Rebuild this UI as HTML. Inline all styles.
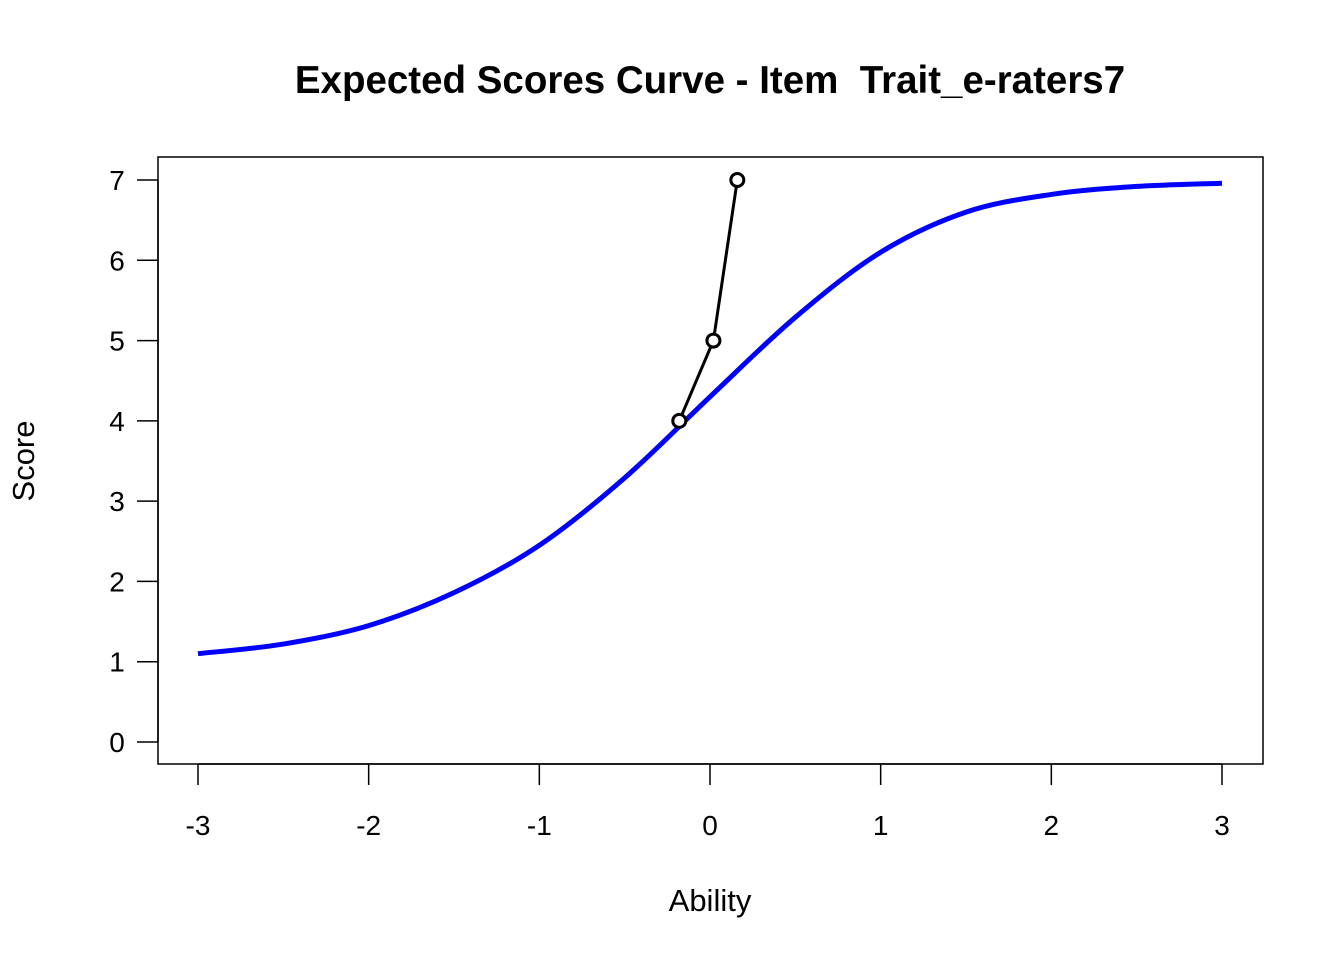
<!DOCTYPE html>
<html><head><meta charset="utf-8"><style>body{margin:0;background:#fff}svg{display:block;font-family:"Liberation Sans",Arial,sans-serif}</style></head>
<body>
<svg id="chart" width="1344" height="960" viewBox="0 0 1344 960" xmlns="http://www.w3.org/2000/svg">
<text x="710" y="93" text-anchor="middle" font-size="38.5" font-weight="bold" xml:space="preserve">Expected Scores Curve - Item  Trait_e-raters7</text>
<rect x="158" y="157" width="1105" height="607" fill="none" stroke="#000" stroke-width="1.5"/>
<g id="xaxis"></g>
<g id="yaxis"></g>
<text x="710" y="911" text-anchor="middle" font-size="31">Ability</text>
<text transform="translate(34,461) rotate(-90)" text-anchor="middle" font-size="31">Score</text>
<g id="series"></g>
</svg>
<script>
const xTicks=[-3,-2,-1,0,1,2,3];
const yTicks=[0,1,2,3,4,5,6,7];
const curveX=[-3,-2.5,-2,-1.5,-1,-0.5,0,0.5,1,1.5,2,2.5,3];
const curveY=[1.1,1.22,1.45,1.86,2.45,3.29,4.3,5.29,6.1,6.6,6.82,6.92,6.96];
const obsX=[-0.18,0.02,0.16];
const obsY=[4,5,7];
const NS="http://www.w3.org/2000/svg";
const sx=v=>198+(v+3)*(1024/6);
const sy=v=>742-v*(562/7);
function mk(t,a,p){const e=document.createElementNS(NS,t);for(const k in a)e.setAttribute(k,a[k]);p.appendChild(e);return e;}
const xa=document.getElementById('xaxis'),ya=document.getElementById('yaxis'),se=document.getElementById('series');
mk('line',{x1:sx(xTicks[0]),x2:sx(xTicks[xTicks.length-1]),y1:764,y2:764,stroke:'#000','stroke-width':1.5},xa);
xTicks.forEach(t=>{mk('line',{x1:sx(t),x2:sx(t),y1:764,y2:785,stroke:'#000','stroke-width':1.5},xa);
const tx=mk('text',{x:sx(t),y:835,'text-anchor':'middle','font-size':28},xa);tx.textContent=t;

});
mk('line',{x1:158,x2:158,y1:sy(0),y2:sy(7),stroke:'#000','stroke-width':1.5},ya);
yTicks.forEach(t=>{mk('line',{x1:137,x2:158,y1:sy(t),y2:sy(t),stroke:'#000','stroke-width':1.5},ya);
const tx=mk('text',{x:117,y:sy(t)+10,'text-anchor':'middle','font-size':28},ya);tx.textContent=t;

});
const P=curveX.map((x,i)=>[sx(x),sy(curveY[i])]);
let d='M'+P[0][0]+','+P[0][1];
for(let i=0;i<P.length-1;i++){const p0=P[Math.max(i-1,0)],p1=P[i],p2=P[i+1],p3=P[Math.min(i+2,P.length-1)];
d+=' C'+(p1[0]+(p2[0]-p0[0])/6)+','+(p1[1]+(p2[1]-p0[1])/6)+' '+(p2[0]-(p3[0]-p1[0])/6)+','+(p2[1]-(p3[1]-p1[1])/6)+' '+p2[0]+','+p2[1];}
const c=mk('path',{d:d,fill:'none',stroke:'#0000ff','stroke-width':5},se);


const ol=mk('polyline',{points:obsX.map((x,i)=>sx(x)+','+sy(obsY[i])).join(' '),fill:'none',stroke:'#000','stroke-width':3},se);


obsX.forEach((x,i)=>{const p=mk('circle',{cx:sx(x),cy:sy(obsY[i]),r:6.5,fill:'#fff',stroke:'#000','stroke-width':3},se);

});
</script>
</body></html>
